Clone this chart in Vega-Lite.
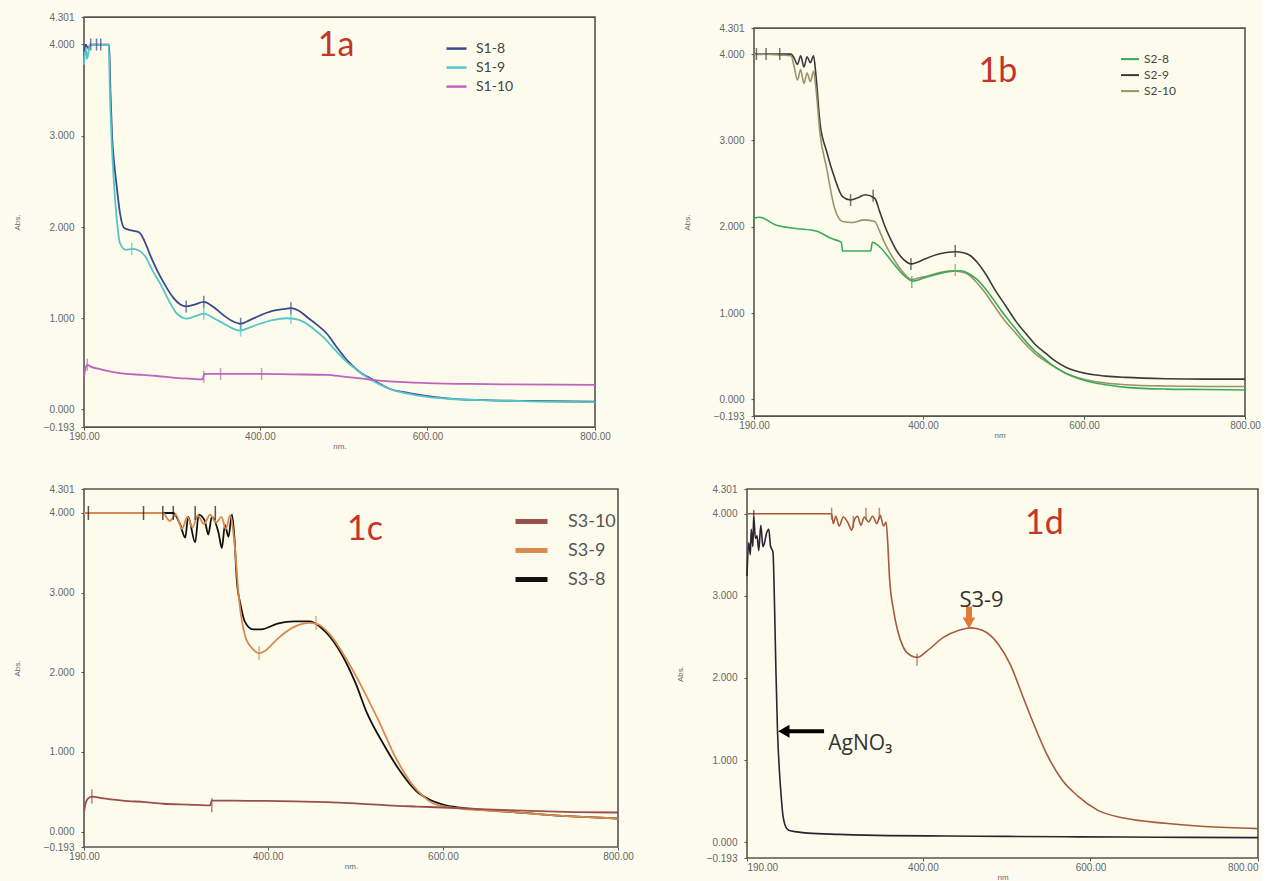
{
  "$schema": "https://vega.github.io/schema/vega-lite/v6.json",
  "background": "#fdfcf0",
  "padding": {"left": 12, "top": 11, "right": 0, "bottom": 0},
  "spacing": 32,
  "resolve": {"scale": {"color": "independent", "x": "independent", "y": "independent"}, "legend": {"color": "independent"}},
  "datasets": {
    "a_lines": [
      {"s":"S1-8","nm":190,"abs":3.92},{"s":"S1-8","nm":192,"abs":4.0},{"s":"S1-8","nm":195,"abs":3.96},{"s":"S1-8","nm":198,"abs":4.0},{"s":"S1-8","nm":220,"abs":4.0},{"s":"S1-8","nm":221.5,"abs":3.5},{"s":"S1-8","nm":223.5,"abs":3.0},{"s":"S1-8","nm":226,"abs":2.7},{"s":"S1-8","nm":229,"abs":2.45},{"s":"S1-8","nm":233,"abs":2.15},{"s":"S1-8","nm":238,"abs":1.99},{"s":"S1-8","nm":248,"abs":1.96},{"s":"S1-8","nm":256,"abs":1.94},{"s":"S1-8","nm":263,"abs":1.83},{"s":"S1-8","nm":270,"abs":1.67},{"s":"S1-8","nm":277,"abs":1.53},{"s":"S1-8","nm":287,"abs":1.36},{"s":"S1-8","nm":297,"abs":1.22},{"s":"S1-8","nm":305,"abs":1.15},{"s":"S1-8","nm":312,"abs":1.13},{"s":"S1-8","nm":322,"abs":1.15},{"s":"S1-8","nm":333,"abs":1.18},{"s":"S1-8","nm":345,"abs":1.12},{"s":"S1-8","nm":357,"abs":1.03},{"s":"S1-8","nm":367,"abs":0.97},{"s":"S1-8","nm":377,"abs":0.94},{"s":"S1-8","nm":388,"abs":0.98},{"s":"S1-8","nm":400,"abs":1.03},{"s":"S1-8","nm":415,"abs":1.08},{"s":"S1-8","nm":428,"abs":1.1},{"s":"S1-8","nm":437,"abs":1.11},{"s":"S1-8","nm":447,"abs":1.08},{"s":"S1-8","nm":458,"abs":1.0},{"s":"S1-8","nm":468,"abs":0.93},{"s":"S1-8","nm":480,"abs":0.83},{"s":"S1-8","nm":492,"abs":0.68},{"s":"S1-8","nm":505,"abs":0.53},{"s":"S1-8","nm":518,"abs":0.42},{"s":"S1-8","nm":534,"abs":0.33},{"s":"S1-8","nm":554,"abs":0.23},{"s":"S1-8","nm":578,"abs":0.18},{"s":"S1-8","nm":598,"abs":0.15},{"s":"S1-8","nm":627,"abs":0.12},{"s":"S1-8","nm":676,"abs":0.1},{"s":"S1-8","nm":724,"abs":0.093},{"s":"S1-8","nm":800,"abs":0.085},
      {"s":"S1-9","nm":190,"abs":3.78},{"s":"S1-9","nm":192,"abs":3.95},{"s":"S1-9","nm":194,"abs":3.85},{"s":"S1-9","nm":197,"abs":4.0},{"s":"S1-9","nm":219.5,"abs":4.0},{"s":"S1-9","nm":221,"abs":3.45},{"s":"S1-9","nm":223,"abs":2.95},{"s":"S1-9","nm":226,"abs":2.45},{"s":"S1-9","nm":229,"abs":2.1},{"s":"S1-9","nm":233,"abs":1.82},{"s":"S1-9","nm":240,"abs":1.75},{"s":"S1-9","nm":248,"abs":1.76},{"s":"S1-9","nm":256,"abs":1.74},{"s":"S1-9","nm":263,"abs":1.68},{"s":"S1-9","nm":272,"abs":1.52},{"s":"S1-9","nm":281,"abs":1.38},{"s":"S1-9","nm":291,"abs":1.2},{"s":"S1-9","nm":301,"abs":1.05},{"s":"S1-9","nm":313,"abs":0.995},{"s":"S1-9","nm":322,"abs":1.02},{"s":"S1-9","nm":333,"abs":1.05},{"s":"S1-9","nm":345,"abs":1.0},{"s":"S1-9","nm":357,"abs":0.94},{"s":"S1-9","nm":367,"abs":0.89},{"s":"S1-9","nm":377,"abs":0.865},{"s":"S1-9","nm":388,"abs":0.9},{"s":"S1-9","nm":400,"abs":0.94},{"s":"S1-9","nm":415,"abs":0.98},{"s":"S1-9","nm":432,"abs":1.0},{"s":"S1-9","nm":443,"abs":0.99},{"s":"S1-9","nm":452,"abs":0.96},{"s":"S1-9","nm":463,"abs":0.89},{"s":"S1-9","nm":476,"abs":0.79},{"s":"S1-9","nm":490,"abs":0.65},{"s":"S1-9","nm":504,"abs":0.52},{"s":"S1-9","nm":518,"abs":0.42},{"s":"S1-9","nm":530,"abs":0.34},{"s":"S1-9","nm":544,"abs":0.27},{"s":"S1-9","nm":560,"abs":0.21},{"s":"S1-9","nm":578,"abs":0.17},{"s":"S1-9","nm":598,"abs":0.14},{"s":"S1-9","nm":627,"abs":0.115},{"s":"S1-9","nm":676,"abs":0.1},{"s":"S1-9","nm":724,"abs":0.09},{"s":"S1-9","nm":800,"abs":0.08},
      {"s":"S1-10","nm":190,"abs":0.36},{"s":"S1-10","nm":192,"abs":0.46},{"s":"S1-10","nm":194,"abs":0.49},{"s":"S1-10","nm":198,"abs":0.47},{"s":"S1-10","nm":210,"abs":0.44},{"s":"S1-10","nm":225,"abs":0.41},{"s":"S1-10","nm":240,"abs":0.39},{"s":"S1-10","nm":260,"abs":0.38},{"s":"S1-10","nm":285,"abs":0.36},{"s":"S1-10","nm":310,"abs":0.34},{"s":"S1-10","nm":331,"abs":0.33},{"s":"S1-10","nm":334,"abs":0.39},{"s":"S1-10","nm":360,"abs":0.39},{"s":"S1-10","nm":400,"abs":0.39},{"s":"S1-10","nm":440,"abs":0.385},{"s":"S1-10","nm":480,"abs":0.38},{"s":"S1-10","nm":500,"abs":0.36},{"s":"S1-10","nm":520,"abs":0.34},{"s":"S1-10","nm":540,"abs":0.32},{"s":"S1-10","nm":560,"abs":0.305},{"s":"S1-10","nm":600,"abs":0.29},{"s":"S1-10","nm":650,"abs":0.28},{"s":"S1-10","nm":700,"abs":0.275},{"s":"S1-10","nm":800,"abs":0.27}
    ],
    "a_ticks": [
      {"s":"S1-8","nm":198,"abs":4.0},{"s":"S1-8","nm":205,"abs":4.0},{"s":"S1-8","nm":210,"abs":4.0},{"s":"S1-8","nm":312,"abs":1.13},{"s":"S1-8","nm":333,"abs":1.18},{"s":"S1-8","nm":377,"abs":0.94},{"s":"S1-8","nm":437,"abs":1.11},
      {"s":"S1-9","nm":193,"abs":3.9},{"s":"S1-9","nm":247,"abs":1.76},{"s":"S1-9","nm":333,"abs":1.05},{"s":"S1-9","nm":377,"abs":0.865},{"s":"S1-9","nm":437,"abs":1.0},
      {"s":"S1-10","nm":194,"abs":0.49},{"s":"S1-10","nm":333,"abs":0.36},{"s":"S1-10","nm":353,"abs":0.39},{"s":"S1-10","nm":402,"abs":0.39}
    ],
    "b_lines": [
      {"s":"S2-9","nm":190,"abs":4.0},{"s":"S2-9","nm":236,"abs":4.0},{"s":"S2-9","nm":240,"abs":3.95},{"s":"S2-9","nm":244,"abs":3.88},{"s":"S2-9","nm":248,"abs":3.98},{"s":"S2-9","nm":252,"abs":3.85},{"s":"S2-9","nm":256,"abs":3.97},{"s":"S2-9","nm":260,"abs":3.9},{"s":"S2-9","nm":264,"abs":3.98},{"s":"S2-9","nm":267,"abs":3.75},{"s":"S2-9","nm":272,"abs":3.2},{"s":"S2-9","nm":280,"abs":2.88},{"s":"S2-9","nm":290,"abs":2.57},{"s":"S2-9","nm":300,"abs":2.35},{"s":"S2-9","nm":310,"abs":2.31},{"s":"S2-9","nm":320,"abs":2.34},{"s":"S2-9","nm":328,"abs":2.37},{"s":"S2-9","nm":340,"abs":2.33},{"s":"S2-9","nm":346,"abs":2.18},{"s":"S2-9","nm":352,"abs":2.02},{"s":"S2-9","nm":360,"abs":1.85},{"s":"S2-9","nm":368,"abs":1.71},{"s":"S2-9","nm":376,"abs":1.62},{"s":"S2-9","nm":385,"abs":1.57},{"s":"S2-9","nm":393,"abs":1.59},{"s":"S2-9","nm":403,"abs":1.63},{"s":"S2-9","nm":422,"abs":1.69},{"s":"S2-9","nm":440,"abs":1.71},{"s":"S2-9","nm":450,"abs":1.7},{"s":"S2-9","nm":458,"abs":1.67},{"s":"S2-9","nm":468,"abs":1.58},{"s":"S2-9","nm":478,"abs":1.45},{"s":"S2-9","nm":490,"abs":1.26},{"s":"S2-9","nm":503,"abs":1.08},{"s":"S2-9","nm":515,"abs":0.91},{"s":"S2-9","nm":528,"abs":0.76},{"s":"S2-9","nm":540,"abs":0.63},{"s":"S2-9","nm":553,"abs":0.53},{"s":"S2-9","nm":565,"abs":0.44},{"s":"S2-9","nm":578,"abs":0.37},{"s":"S2-9","nm":603,"abs":0.3},{"s":"S2-9","nm":627,"abs":0.27},{"s":"S2-9","nm":652,"abs":0.255},{"s":"S2-9","nm":702,"abs":0.24},{"s":"S2-9","nm":750,"abs":0.235},{"s":"S2-9","nm":800,"abs":0.235},
      {"s":"S2-10","nm":190,"abs":4.0},{"s":"S2-10","nm":236,"abs":3.98},{"s":"S2-10","nm":240,"abs":3.85},{"s":"S2-10","nm":244,"abs":3.7},{"s":"S2-10","nm":248,"abs":3.82},{"s":"S2-10","nm":252,"abs":3.66},{"s":"S2-10","nm":256,"abs":3.78},{"s":"S2-10","nm":260,"abs":3.68},{"s":"S2-10","nm":264,"abs":3.8},{"s":"S2-10","nm":267,"abs":3.6},{"s":"S2-10","nm":272,"abs":3.08},{"s":"S2-10","nm":280,"abs":2.69},{"s":"S2-10","nm":290,"abs":2.22},{"s":"S2-10","nm":300,"abs":2.06},{"s":"S2-10","nm":312,"abs":2.05},{"s":"S2-10","nm":327,"abs":2.08},{"s":"S2-10","nm":340,"abs":2.06},{"s":"S2-10","nm":346,"abs":1.95},{"s":"S2-10","nm":352,"abs":1.82},{"s":"S2-10","nm":362,"abs":1.65},{"s":"S2-10","nm":372,"abs":1.51},{"s":"S2-10","nm":386,"abs":1.39},{"s":"S2-10","nm":396,"abs":1.41},{"s":"S2-10","nm":406,"abs":1.43},{"s":"S2-10","nm":421,"abs":1.47},{"s":"S2-10","nm":436,"abs":1.49},{"s":"S2-10","nm":446,"abs":1.48},{"s":"S2-10","nm":456,"abs":1.45},{"s":"S2-10","nm":466,"abs":1.36},{"s":"S2-10","nm":476,"abs":1.25},{"s":"S2-10","nm":488,"abs":1.09},{"s":"S2-10","nm":501,"abs":0.92},{"s":"S2-10","nm":514,"abs":0.78},{"s":"S2-10","nm":526,"abs":0.65},{"s":"S2-10","nm":538,"abs":0.54},{"s":"S2-10","nm":551,"abs":0.45},{"s":"S2-10","nm":563,"abs":0.38},{"s":"S2-10","nm":576,"abs":0.31},{"s":"S2-10","nm":601,"abs":0.23},{"s":"S2-10","nm":627,"abs":0.19},{"s":"S2-10","nm":652,"abs":0.17},{"s":"S2-10","nm":702,"abs":0.155},{"s":"S2-10","nm":750,"abs":0.15},{"s":"S2-10","nm":800,"abs":0.15},
      {"s":"S2-8","nm":190,"abs":2.1},{"s":"S2-8","nm":197,"abs":2.11},{"s":"S2-8","nm":217,"abs":2.02},{"s":"S2-8","nm":242,"abs":1.98},{"s":"S2-8","nm":267,"abs":1.95},{"s":"S2-8","nm":287,"abs":1.86},{"s":"S2-8","nm":298.5,"abs":1.82},{"s":"S2-8","nm":300,"abs":1.72},{"s":"S2-8","nm":335,"abs":1.72},{"s":"S2-8","nm":337,"abs":1.82},{"s":"S2-8","nm":347,"abs":1.76},{"s":"S2-8","nm":362,"abs":1.59},{"s":"S2-8","nm":377,"abs":1.43},{"s":"S2-8","nm":387,"abs":1.37},{"s":"S2-8","nm":402,"abs":1.41},{"s":"S2-8","nm":432,"abs":1.48},{"s":"S2-8","nm":447,"abs":1.49},{"s":"S2-8","nm":458,"abs":1.45},{"s":"S2-8","nm":467,"abs":1.39},{"s":"S2-8","nm":476,"abs":1.3},{"s":"S2-8","nm":488,"abs":1.15},{"s":"S2-8","nm":501,"abs":0.98},{"s":"S2-8","nm":514,"abs":0.83},{"s":"S2-8","nm":526,"abs":0.69},{"s":"S2-8","nm":538,"abs":0.57},{"s":"S2-8","nm":551,"abs":0.47},{"s":"S2-8","nm":563,"abs":0.38},{"s":"S2-8","nm":576,"abs":0.31},{"s":"S2-8","nm":601,"abs":0.22},{"s":"S2-8","nm":627,"abs":0.17},{"s":"S2-8","nm":652,"abs":0.14},{"s":"S2-8","nm":702,"abs":0.12},{"s":"S2-8","nm":750,"abs":0.115},{"s":"S2-8","nm":800,"abs":0.11}
    ],
    "b_ticks": [
      {"s":"S2-9","nm":193,"abs":4.0},{"s":"S2-9","nm":205,"abs":4.0},{"s":"S2-9","nm":222,"abs":4.0},{"s":"S2-9","nm":310,"abs":2.31},{"s":"S2-9","nm":338,"abs":2.36},{"s":"S2-9","nm":385,"abs":1.57},{"s":"S2-9","nm":440,"abs":1.72},
      {"s":"S2-8","nm":386,"abs":1.36},{"s":"S2-10","nm":440,"abs":1.5}
    ],
    "c_lines": [
      {"s":"S3-8","nm":190,"abs":4.0},{"s":"S3-8","nm":292,"abs":4.0},{"s":"S3-8","nm":300,"abs":3.85},{"s":"S3-8","nm":305.6,"abs":3.69},{"s":"S3-8","nm":309,"abs":3.95},{"s":"S3-8","nm":317,"abs":3.63},{"s":"S3-8","nm":321,"abs":3.98},{"s":"S3-8","nm":328,"abs":3.9},{"s":"S3-8","nm":332,"abs":3.73},{"s":"S3-8","nm":336,"abs":3.95},{"s":"S3-8","nm":343.7,"abs":3.75},{"s":"S3-8","nm":347.5,"abs":3.56},{"s":"S3-8","nm":351,"abs":3.85},{"s":"S3-8","nm":355,"abs":3.7},{"s":"S3-8","nm":359,"abs":3.98},{"s":"S3-8","nm":362,"abs":3.66},{"s":"S3-8","nm":364.7,"abs":3.14},{"s":"S3-8","nm":369,"abs":2.84},{"s":"S3-8","nm":374,"abs":2.63},{"s":"S3-8","nm":383,"abs":2.54},{"s":"S3-8","nm":392.6,"abs":2.54},{"s":"S3-8","nm":411,"abs":2.61},{"s":"S3-8","nm":430,"abs":2.64},{"s":"S3-8","nm":448,"abs":2.64},{"s":"S3-8","nm":462,"abs":2.55},{"s":"S3-8","nm":481,"abs":2.29},{"s":"S3-8","nm":500,"abs":1.87},{"s":"S3-8","nm":513.6,"abs":1.48},{"s":"S3-8","nm":532,"abs":1.1},{"s":"S3-8","nm":551,"abs":0.76},{"s":"S3-8","nm":569.5,"abs":0.51},{"s":"S3-8","nm":585,"abs":0.4},{"s":"S3-8","nm":600,"abs":0.34},{"s":"S3-8","nm":620,"abs":0.3},{"s":"S3-8","nm":650,"abs":0.27},{"s":"S3-8","nm":680,"abs":0.245},{"s":"S3-8","nm":720,"abs":0.21},{"s":"S3-8","nm":760,"abs":0.185},{"s":"S3-8","nm":800,"abs":0.165},
      {"s":"S3-9","nm":190,"abs":4.0},{"s":"S3-9","nm":280,"abs":4.0},{"s":"S3-9","nm":288,"abs":3.9},{"s":"S3-9","nm":295,"abs":3.98},{"s":"S3-9","nm":302,"abs":3.8},{"s":"S3-9","nm":308,"abs":3.95},{"s":"S3-9","nm":314,"abs":3.82},{"s":"S3-9","nm":320,"abs":3.97},{"s":"S3-9","nm":327,"abs":3.86},{"s":"S3-9","nm":334,"abs":3.98},{"s":"S3-9","nm":341,"abs":3.88},{"s":"S3-9","nm":347,"abs":3.95},{"s":"S3-9","nm":352,"abs":3.8},{"s":"S3-9","nm":357,"abs":3.97},{"s":"S3-9","nm":362,"abs":3.61},{"s":"S3-9","nm":367,"abs":2.93},{"s":"S3-9","nm":374,"abs":2.46},{"s":"S3-9","nm":383,"abs":2.29},{"s":"S3-9","nm":390,"abs":2.24},{"s":"S3-9","nm":397,"abs":2.27},{"s":"S3-9","nm":411,"abs":2.42},{"s":"S3-9","nm":430,"abs":2.57},{"s":"S3-9","nm":448,"abs":2.62},{"s":"S3-9","nm":458,"abs":2.6},{"s":"S3-9","nm":472,"abs":2.46},{"s":"S3-9","nm":490,"abs":2.16},{"s":"S3-9","nm":509,"abs":1.78},{"s":"S3-9","nm":528,"abs":1.36},{"s":"S3-9","nm":546,"abs":0.93},{"s":"S3-9","nm":565,"abs":0.59},{"s":"S3-9","nm":578,"abs":0.44},{"s":"S3-9","nm":588,"abs":0.36},{"s":"S3-9","nm":600,"abs":0.32},{"s":"S3-9","nm":620,"abs":0.29},{"s":"S3-9","nm":650,"abs":0.265},{"s":"S3-9","nm":680,"abs":0.245},{"s":"S3-9","nm":720,"abs":0.21},{"s":"S3-9","nm":760,"abs":0.185},{"s":"S3-9","nm":800,"abs":0.165},
      {"s":"S3-10","nm":190,"abs":0.25},{"s":"S3-10","nm":192,"abs":0.36},{"s":"S3-10","nm":195,"abs":0.42},{"s":"S3-10","nm":199,"abs":0.44},{"s":"S3-10","nm":210,"abs":0.42},{"s":"S3-10","nm":234,"abs":0.39},{"s":"S3-10","nm":260,"abs":0.37},{"s":"S3-10","nm":281,"abs":0.35},{"s":"S3-10","nm":310,"abs":0.34},{"s":"S3-10","nm":334,"abs":0.33},{"s":"S3-10","nm":336,"abs":0.39},{"s":"S3-10","nm":360,"abs":0.39},{"s":"S3-10","nm":397,"abs":0.385},{"s":"S3-10","nm":430,"abs":0.38},{"s":"S3-10","nm":467,"abs":0.37},{"s":"S3-10","nm":500,"abs":0.355},{"s":"S3-10","nm":537,"abs":0.33},{"s":"S3-10","nm":570,"abs":0.315},{"s":"S3-10","nm":607,"abs":0.3},{"s":"S3-10","nm":650,"abs":0.28},{"s":"S3-10","nm":700,"abs":0.26},{"s":"S3-10","nm":750,"abs":0.245},{"s":"S3-10","nm":800,"abs":0.24}
    ],
    "c_ticks": [
      {"s":"S3-8","nm":195,"abs":4.0},{"s":"S3-8","nm":258,"abs":4.0},{"s":"S3-8","nm":280,"abs":4.0},{"s":"S3-8","nm":292,"abs":4.0},{"s":"S3-8","nm":317,"abs":4.0},{"s":"S3-8","nm":340,"abs":4.0},
      {"s":"S3-9","nm":390,"abs":2.24},{"s":"S3-9","nm":455,"abs":2.62},
      {"s":"S3-10","nm":199,"abs":0.44},{"s":"S3-10","nm":336,"abs":0.33}
    ],
    "d_lines": [
      {"s":"S3-9","nm":190,"abs":4.0},{"s":"S3-9","nm":291,"abs":4.0},{"s":"S3-9","nm":293,"abs":3.88},{"s":"S3-9","nm":296,"abs":3.97},{"s":"S3-9","nm":300,"abs":3.85},{"s":"S3-9","nm":305,"abs":3.96},{"s":"S3-9","nm":310,"abs":3.9},{"s":"S3-9","nm":315,"abs":3.8},{"s":"S3-9","nm":318,"abs":3.92},{"s":"S3-9","nm":322,"abs":3.97},{"s":"S3-9","nm":326,"abs":3.86},{"s":"S3-9","nm":330,"abs":3.96},{"s":"S3-9","nm":335,"abs":3.9},{"s":"S3-9","nm":340,"abs":3.97},{"s":"S3-9","nm":345,"abs":3.88},{"s":"S3-9","nm":349,"abs":3.98},{"s":"S3-9","nm":353,"abs":3.85},{"s":"S3-9","nm":356,"abs":3.9},{"s":"S3-9","nm":358,"abs":3.65},{"s":"S3-9","nm":360,"abs":3.24},{"s":"S3-9","nm":365,"abs":2.82},{"s":"S3-9","nm":369.7,"abs":2.58},{"s":"S3-9","nm":376.8,"abs":2.37},{"s":"S3-9","nm":386,"abs":2.27},{"s":"S3-9","nm":393,"abs":2.25},{"s":"S3-9","nm":405,"abs":2.33},{"s":"S3-9","nm":424,"abs":2.49},{"s":"S3-9","nm":443,"abs":2.58},{"s":"S3-9","nm":457,"abs":2.61},{"s":"S3-9","nm":471,"abs":2.58},{"s":"S3-9","nm":490,"abs":2.41},{"s":"S3-9","nm":504.5,"abs":2.16},{"s":"S3-9","nm":518.7,"abs":1.79},{"s":"S3-9","nm":533,"abs":1.42},{"s":"S3-9","nm":547,"abs":1.09},{"s":"S3-9","nm":566,"abs":0.76},{"s":"S3-9","nm":585,"abs":0.56},{"s":"S3-9","nm":608.5,"abs":0.39},{"s":"S3-9","nm":641.6,"abs":0.29},{"s":"S3-9","nm":689,"abs":0.23},{"s":"S3-9","nm":736,"abs":0.19},{"s":"S3-9","nm":800,"abs":0.165},
      {"s":"AgNO₃","nm":190,"abs":3.24},{"s":"AgNO₃","nm":192,"abs":3.65},{"s":"AgNO₃","nm":194,"abs":3.5},{"s":"AgNO₃","nm":195,"abs":3.81},{"s":"AgNO₃","nm":197,"abs":3.6},{"s":"AgNO₃","nm":198,"abs":3.97},{"s":"AgNO₃","nm":200,"abs":3.7},{"s":"AgNO₃","nm":202,"abs":3.73},{"s":"AgNO₃","nm":204,"abs":3.55},{"s":"AgNO₃","nm":206.5,"abs":3.86},{"s":"AgNO₃","nm":209,"abs":3.6},{"s":"AgNO₃","nm":211,"abs":3.65},{"s":"AgNO₃","nm":213,"abs":3.75},{"s":"AgNO₃","nm":216,"abs":3.81},{"s":"AgNO₃","nm":218,"abs":3.61},{"s":"AgNO₃","nm":221,"abs":3.53},{"s":"AgNO₃","nm":223,"abs":2.82},{"s":"AgNO₃","nm":224.5,"abs":2.1},{"s":"AgNO₃","nm":226.4,"abs":1.36},{"s":"AgNO₃","nm":228.5,"abs":0.9},{"s":"AgNO₃","nm":230.5,"abs":0.6},{"s":"AgNO₃","nm":232.6,"abs":0.35},{"s":"AgNO₃","nm":235,"abs":0.22},{"s":"AgNO₃","nm":239.7,"abs":0.145},{"s":"AgNO₃","nm":250,"abs":0.125},{"s":"AgNO₃","nm":263,"abs":0.11},{"s":"AgNO₃","nm":300,"abs":0.095},{"s":"AgNO₃","nm":358,"abs":0.08},{"s":"AgNO₃","nm":430,"abs":0.075},{"s":"AgNO₃","nm":500,"abs":0.07},{"s":"AgNO₃","nm":570,"abs":0.065},{"s":"AgNO₃","nm":641.6,"abs":0.062},{"s":"AgNO₃","nm":720,"abs":0.058},{"s":"AgNO₃","nm":800,"abs":0.055}
    ],
    "d_ticks": [
      {"s":"S3-9","nm":291,"abs":4.0},{"s":"S3-9","nm":317,"abs":3.9},{"s":"S3-9","nm":332,"abs":4.0},{"s":"S3-9","nm":348,"abs":4.0},{"s":"S3-9","nm":393,"abs":2.22},
      {"s":"AgNO₃","nm":198,"abs":3.97}
    ]
  },
  "vconcat": [
    {
      "hconcat": [
        {
          "width": 511, "height": 410,
          "encoding": {
            "x": {"field": "nm", "type": "quantitative", "scale": {"domain": [190, 800], "nice": false, "zero": false}, "axis": {"values": [190, 400, 600, 800], "format": ".2f", "title": "nm."}},
            "y": {"field": "abs", "type": "quantitative", "scale": {"domain": [-0.193, 4.301], "nice": false, "zero": false}, "axis": {"values": [-0.193, 0, 1, 2, 3, 4, 4.301], "format": ".3f", "title": "Abs."}}
          },
          "layer": [
            {"data": {"name": "a_lines"}, "mark": {"type": "line", "strokeWidth": 1.8, "interpolate": "monotone"},
             "encoding": {"color": {"field": "s", "type": "nominal", "scale": {"domain": ["S1-8", "S1-9", "S1-10"], "range": ["#3b4a8c", "#56c5c8", "#c062c0"]},
               "legend": {"title": null, "orient": "none", "legendX": 361, "legendY": 20, "symbolType": "stroke", "symbolSize": 400, "symbolStrokeWidth": 2.5, "labelFontSize": 14, "labelFont": "Lato", "labelColor": "#444", "labelOffset": 8, "rowPadding": -6.3, "padding": 0}}}},
            {"data": {"name": "a_ticks"}, "mark": {"type": "tick", "orient": "vertical", "size": 12, "thickness": 1.5},
             "encoding": {"color": {"field": "s", "type": "nominal", "scale": {"domain": ["S1-8", "S1-9", "S1-10"], "range": ["#3b4a8c", "#56c5c8", "#c062c0"]}, "legend": null}}},
            {"data": {"values": [{"nm": 491, "abs": 3.98, "label": "1a"}]}, "mark": {"type": "text", "fontSize": 34, "font": "Lato", "color": "#c3342b"},
             "encoding": {"text": {"field": "label"}}}
          ]
        },
        {
          "width": 491, "height": 388,
          "encoding": {
            "x": {"field": "nm", "type": "quantitative", "scale": {"domain": [190, 800], "nice": false, "zero": false}, "axis": {"values": [190, 400, 600, 800], "format": ".2f", "title": "nm"}},
            "y": {"field": "abs", "type": "quantitative", "scale": {"domain": [-0.193, 4.301], "nice": false, "zero": false}, "axis": {"values": [-0.193, 0, 1, 2, 3, 4, 4.301], "format": ".3f", "title": "Abs."}}
          },
          "layer": [
            {"data": {"name": "b_lines"}, "mark": {"type": "line", "strokeWidth": 1.6, "interpolate": "monotone"},
             "encoding": {"color": {"field": "s", "type": "nominal", "scale": {"domain": ["S2-8", "S2-9", "S2-10"], "range": ["#3aaa5a", "#3a3a3a", "#9a9468"]},
               "legend": {"title": null, "orient": "none", "legendX": 366, "legendY": 21, "symbolType": "stroke", "symbolSize": 324, "symbolStrokeWidth": 2, "labelFontSize": 12, "labelFont": "Lato", "labelColor": "#444", "labelOffset": 4, "rowPadding": -5.5, "padding": 0}}}},
            {"data": {"name": "b_ticks"}, "mark": {"type": "tick", "orient": "vertical", "size": 12, "thickness": 1.5},
             "encoding": {"color": {"field": "s", "type": "nominal", "scale": {"domain": ["S2-8", "S2-9", "S2-10"], "range": ["#3aaa5a", "#3a3a3a", "#9a9468"]}, "legend": null}}},
            {"data": {"values": [{"nm": 493, "abs": 3.79, "label": "1b"}]}, "mark": {"type": "text", "fontSize": 34, "font": "Lato", "color": "#c3342b"},
             "encoding": {"text": {"field": "label"}}}
          ]
        }
      ],
      "spacing": 70,
      "center": true,
      "resolve": {"scale": {"color": "independent", "x": "independent", "y": "independent"}, "legend": {"color": "independent"}}
    },
    {
      "hconcat": [
        {
          "width": 534, "height": 358,
          "encoding": {
            "x": {"field": "nm", "type": "quantitative", "scale": {"domain": [190, 800], "nice": false, "zero": false}, "axis": {"values": [190, 400, 600, 800], "format": ".2f", "title": "nm."}},
            "y": {"field": "abs", "type": "quantitative", "scale": {"domain": [-0.193, 4.301], "nice": false, "zero": false}, "axis": {"values": [-0.193, 0, 1, 2, 3, 4, 4.301], "format": ".3f", "title": "Abs."}}
          },
          "layer": [
            {"data": {"name": "c_lines"}, "mark": {"type": "line", "strokeWidth": 1.8, "interpolate": "monotone"},
             "encoding": {"color": {"field": "s", "type": "nominal", "scale": {"domain": ["S3-10", "S3-9", "S3-8"], "range": ["#9a4f4f", "#d98a50", "#111111"]},
               "legend": {"title": null, "orient": "none", "legendX": 429, "legendY": 14, "symbolType": "stroke", "symbolSize": 1024, "symbolStrokeWidth": 5, "labelFontSize": 18, "labelFont": "Lato", "labelColor": "#555", "labelOffset": 18, "rowPadding": -12.5, "padding": 0}}}},
            {"data": {"name": "c_ticks"}, "mark": {"type": "tick", "orient": "vertical", "size": 14, "thickness": 1.5},
             "encoding": {"color": {"field": "s", "type": "nominal", "scale": {"domain": ["S3-10", "S3-9", "S3-8"], "range": ["#9a4f4f", "#d98a50", "#111111"]}, "legend": null}}},
            {"data": {"values": [{"nm": 511, "abs": 3.79, "label": "1c"}]}, "mark": {"type": "text", "fontSize": 34, "font": "Lato", "color": "#c3342b"},
             "encoding": {"text": {"field": "label"}}}
          ]
        },
        {
          "width": 511, "height": 369,
          "encoding": {
            "x": {"field": "nm", "type": "quantitative", "scale": {"domain": [190, 800], "nice": false, "zero": false}, "axis": {"values": [190, 400, 600, 800], "format": ".2f", "title": "nm", "labelFlush": true}},
            "y": {"field": "abs", "type": "quantitative", "scale": {"domain": [-0.193, 4.301], "nice": false, "zero": false}, "axis": {"values": [-0.193, 0, 1, 2, 3, 4, 4.301], "format": ".3f", "title": "Abs."}}
          },
          "layer": [
            {"data": {"name": "d_lines"}, "mark": {"type": "line", "strokeWidth": 1.6, "interpolate": "monotone"},
             "encoding": {"color": {"field": "s", "type": "nominal", "scale": {"domain": ["S3-9", "AgNO₃"], "range": ["#a65a3e", "#2c2433"]}, "legend": null}}},
            {"data": {"name": "d_ticks"}, "mark": {"type": "tick", "orient": "vertical", "size": 12, "thickness": 1.5},
             "encoding": {"color": {"field": "s", "type": "nominal", "scale": {"domain": ["S3-9", "AgNO₃"], "range": ["#c0452e", "#2c2433"]}, "legend": null}}},
            {"data": {"values": [{"nm": 455, "abs": 2.87, "abs2": 2.72}]}, "mark": {"type": "rule", "color": "#e07b39", "strokeWidth": 6},
             "encoding": {"y2": {"field": "abs2"}}},
            {"data": {"values": [{"nm": 455, "abs": 2.67}]}, "mark": {"type": "point", "shape": "triangle-down", "filled": true, "size": 160, "color": "#e07b39", "opacity": 1}},
            {"data": {"values": [{"nm": 282, "nm2": 239, "abs": 1.35}]}, "mark": {"type": "rule", "color": "#000000", "strokeWidth": 4},
             "encoding": {"x2": {"field": "nm2"}}},
            {"data": {"values": [{"nm": 234, "abs": 1.35}]}, "mark": {"type": "point", "shape": "triangle-left", "filled": true, "size": 170, "color": "#000000", "opacity": 1}},
            {"data": {"values": [{"nm": 470, "abs": 2.95, "label": "S3-9"}]}, "mark": {"type": "text", "fontSize": 22, "font": "Open Sans", "color": "#333333"},
             "encoding": {"text": {"field": "label"}}},
            {"data": {"values": [{"nm": 287, "abs": 1.2, "label": "AgNO₃"}]}, "mark": {"type": "text", "fontSize": 21, "font": "Open Sans", "color": "#333333", "align": "left"},
             "encoding": {"text": {"field": "label"}}},
            {"data": {"values": [{"nm": 545, "abs": 3.88, "label": "1d"}]}, "mark": {"type": "text", "fontSize": 34, "font": "Lato", "color": "#c3342b"},
             "encoding": {"text": {"field": "label"}}}
          ]
        }
      ],
      "spacing": 40,
      "resolve": {"scale": {"color": "independent", "x": "independent", "y": "independent"}, "legend": {"color": "independent"}}
    }
  ],
  "config": {
    "view": {"stroke": "#55554d", "strokeWidth": 1.6, "fill": "#fcfbec"},
    "axis": {"domain": false, "grid": false, "labelFont": "Liberation Sans", "labelFontSize": 10, "labelColor": "#666666", "tickColor": "#555555", "tickSize": 3, "titleFont": "Liberation Sans", "titleFontSize": 8, "titleFontWeight": "normal", "titleColor": "#666666", "labelOverlap": false, "labelBound": false, "labelFlush": false},
    "axisY": {"labelPadding": 7, "titlePadding": 22},
    "axisX": {"labelPadding": 1, "titlePadding": 1}
  }
}
